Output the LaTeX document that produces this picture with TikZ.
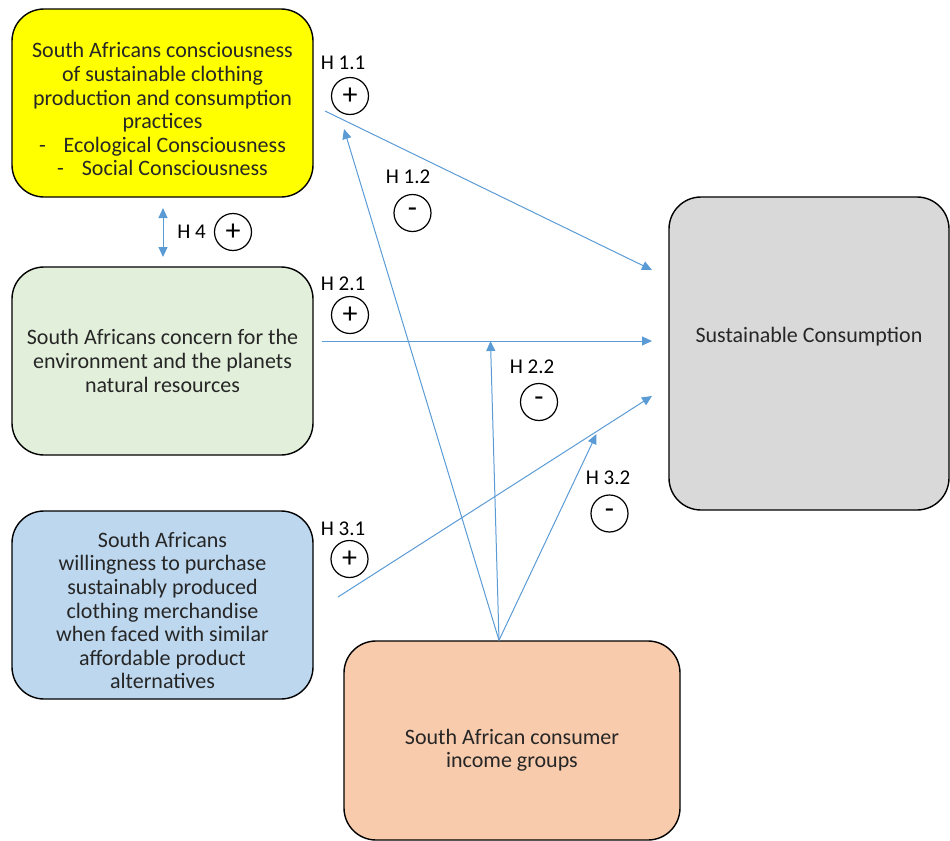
\documentclass[tikz,border=0pt]{standalone}
\usepackage{fontspec}
\setmainfont{Carlito}
\usetikzlibrary{arrows.meta}
\definecolor{conscyellow}{HTML}{FFFF00}
\definecolor{concerngreen}{HTML}{E2EFDA}
\definecolor{willblue}{HTML}{BDD7EE}
\definecolor{consgray}{HTML}{D9D9D9}
\definecolor{incomeorange}{HTML}{F8CBAD}
\definecolor{linkblue}{HTML}{5B9BD5}

\begin{document}
\begin{tikzpicture}[x=0.5pt,y=-0.5pt,
  box/.style={draw=black,line width=0.7pt,rounded corners=16pt,align=center,inner sep=0pt,
    text=black!85,font=\fontsize{11}{11.8}\selectfont},
  link/.style={draw=linkblue,line width=0.5pt,-{Triangle[length=5pt,width=4.5pt]}},
  hyp/.style={font=\fontsize{10.5}{11}\selectfont},
  sign/.style={circle,draw,line width=0.6pt,minimum size=18.5pt,inner sep=0pt,font=\fontsize{15}{15}\selectfont}]
\useasboundingbox (0,0) rectangle (950,841);
% boxes
\node[box,fill=conscyellow,minimum width=150.5pt,minimum height=94pt,text height=73pt] (consc) at (162.5,103)
  {South Africans consciousness\\of sustainable clothing\\production and consumption\\practices\\
   -\hspace{9pt}Ecological Consciousness\\-\hspace{9pt}Social Consciousness};
\node[box,fill=concerngreen,minimum width=150.5pt,minimum height=94pt] (concern) at (162.5,361)
  {South Africans concern for the\\environment and the planets\\natural resources};
\node[box,fill=willblue,minimum width=150.5pt,minimum height=94pt,text height=84pt] (willing) at (162.5,605)
  {South Africans\\willingness to purchase\\sustainably produced\\clothing merchandise\\when faced with similar\\affordable product\\alternatives};
\node[box,fill=consgray,minimum width=140pt,minimum height=156.5pt,text depth=19pt] (sustcons) at (809,353.5)
  {Sustainable Consumption};
\node[box,fill=incomeorange,minimum width=168pt,minimum height=99.5pt,text height=29pt] (income) at (512,740.5)
  {South African consumer\\income groups};
% arrow ends
\coordinate (h11a) at (325,111);  \coordinate (h11b) at (652,270);
\coordinate (h21a) at (322,341);  \coordinate (h21b) at (652,341);
\coordinate (h31a) at (338,597);  \coordinate (h31b) at (652,396);
\coordinate (h12b) at (344,129);
\coordinate (h22b) at (490.5,341);
\coordinate (h32b) at (596.5,434);
\coordinate (h4a) at (163,208);   \coordinate (h4b) at (163,257);
\coordinate (incsrc) at ([xshift=-6.5pt]income.north);
% links
\draw[link] (h11a) -- (h11b);
\draw[link] (h21a) -- (h21b);
\draw[link] (h31a) -- (h31b);
\draw[link] (incsrc) -- (h12b);
\draw[link] (incsrc) -- (h22b);
\draw[link] (incsrc) -- (h32b);
\draw[link,{Triangle[length=5pt,width=4.5pt]}-{Triangle[length=5pt,width=4.5pt]}] (h4a) -- (h4b);
% hypotheses
\node[hyp] (h11) at (343,63) {H 1.1};     \node[sign] (s11) at (350,96) {+};
\node[hyp] (h12) at (408,177) {H 1.2};    \node[sign] (s12) at (412.5,213) {-};
\node[hyp] (h4) at (191.5,232) {H 4};     \node[sign] (s4) at (233,232) {+};
\node[hyp] (h21) at (343,283.5) {H 2.1};  \node[sign] (s21) at (350,315) {+};
\node[hyp] (h22) at (532,367) {H 2.2};    \node[sign] (s22) at (539,402) {-};
\node[hyp] (h32) at (608,478) {H 3.2};    \node[sign] (s32) at (609.5,513.5) {-};
\node[hyp] (h31) at (343,529) {H 3.1};    \node[sign] (s31) at (349.5,559) {+};
\end{tikzpicture}
\end{document}
